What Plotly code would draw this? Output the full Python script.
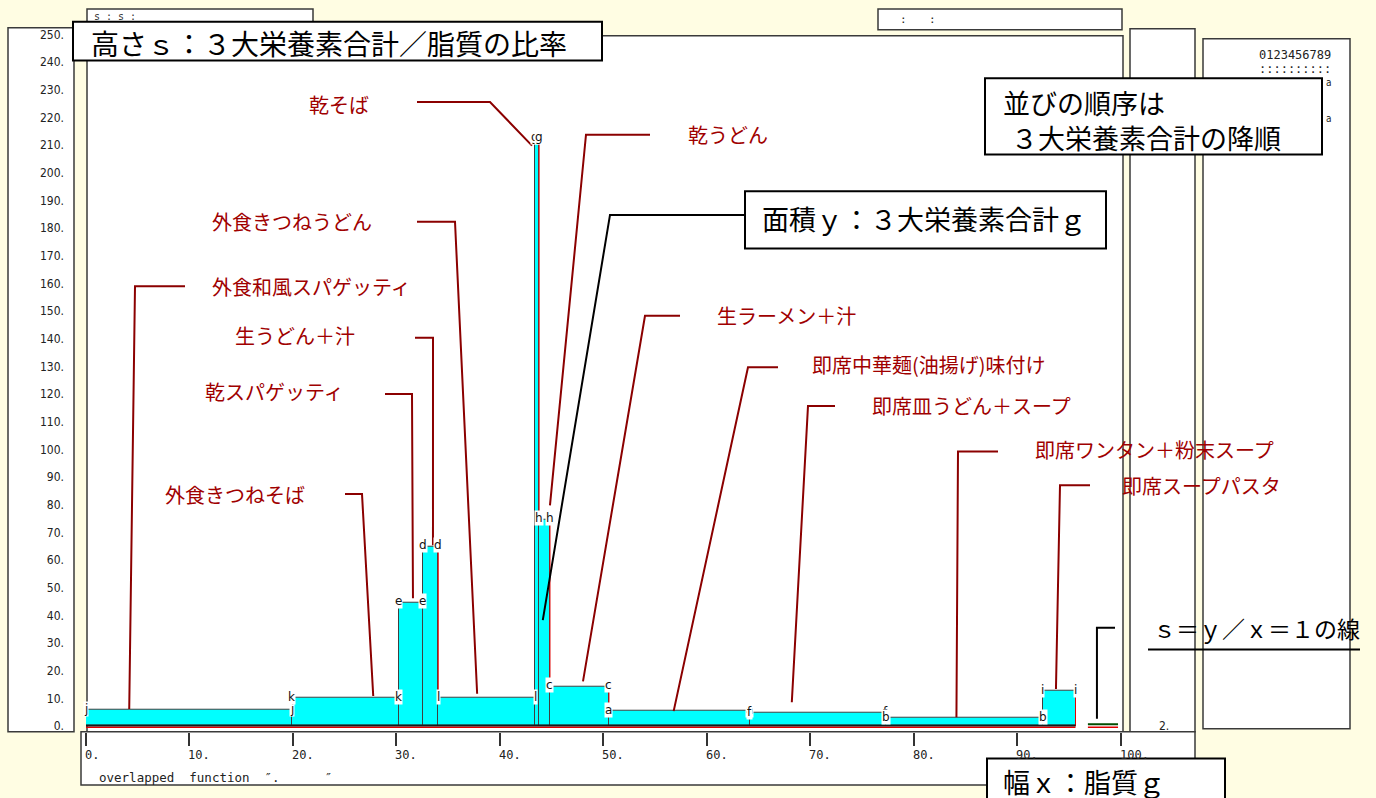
import plotly.graph_objects as go

# ---------------- data ----------------
foods = ["外食和風スパゲッティ", "外食きつねそば", "乾スパゲッティ", "生うどん＋汁",
         "外食きつねうどん", "乾そば", "乾うどん", "生ラーメン＋汁",
         "即席中華麺(油揚げ)味付け", "即席皿うどん＋スープ", "即席ワンタン＋粉末スープ",
         "即席スープパスタ"]
codes = ["j", "k", "e", "d", "l", "g", "h", "c", "a", "f", "b", "i"]
fat_g = [19.9, 10.35, 2.3, 1.5, 9.4, 0.35, 1.05, 5.7, 13.6, 13.15, 15.2, 3.15]      # width x
ratio_s = [5.9, 10.2, 44.8, 65.0, 10.3, 212.7, 74.8, 14.4, 5.45, 4.7, 2.9, 12.7]     # height s
x_ticks = [0, 10, 20, 30, 40, 50, 60, 70, 80, 90, 100]
x_tick_labels = [f"{v}." for v in x_ticks]
y_ticks = list(range(0, 251, 10))
y_tick_labels = [f"{v}." for v in y_ticks]
s_line_value = 1.0

# ---------------- geometry helpers ----------------
W, H = 1376, 798
X0, XS = 86.0, 10.345     # px of x=0, px per unit
Y0, YS = 727.5, 2.795     # px of y=0, px per unit


def dx(px):
    return (px - X0) / XS


def dy(py):
    return (Y0 - py) / YS


def pxp(px):
    return px / W


def pyp(py):
    return 1 - py / H


lefts = []
acc = 0.0
for w in fat_g:
    lefts.append(acc)
    acc += w
rights = [l + w for l, w in zip(lefts, fat_g)]
centers = [l + w / 2 for l, w in zip(lefts, fat_g)]
total_x = acc

BEIGE = "#FFFDE3"
PANEL = "#3a3a3a"
LABEL_RED = "#A00000"
LEAD_RED = "#8B0000"
JP = "Noto Sans CJK JP, Noto Sans CJK SC, sans-serif"
NARROW = "Liberation Sans Narrow, DejaVu Sans Condensed, sans-serif"
MONO = "DejaVu Sans Mono, Liberation Mono, monospace"

fig = go.Figure()

# bars (variable width)
fig.add_trace(go.Bar(
    x=centers, y=ratio_s, width=fat_g,
    marker=dict(color="#00FFFF", line=dict(color="#404040", width=1)),
    hoverinfo="skip", showlegend=False))

# red descending edges (right side of a bar down to the next top)
rx, ry = [], []
for i in range(len(ratio_s)):
    nxt = ratio_s[i + 1] if i + 1 < len(ratio_s) else 0.0
    if nxt < ratio_s[i]:
        rx += [rights[i], rights[i], None]
        ry += [ratio_s[i], nxt, None]
fig.add_trace(go.Scatter(x=rx, y=ry, mode="lines", line=dict(color="#E00000", width=1),
                         hoverinfo="skip", showlegend=False))

# base lines
sample_a, sample_b = total_x + 1.2, 99.76
fig.add_trace(go.Scatter(x=[0, total_x, None, sample_a, sample_b], y=[-0.35, -0.35, None, -0.35, -0.35],
                         mode="lines", line=dict(color="#E00000", width=1.5), hoverinfo="skip", showlegend=False))
fig.add_trace(go.Scatter(x=[0, total_x], y=[0.3, 0.3], mode="lines",
                         line=dict(color="#1a1a1a", width=2), hoverinfo="skip", showlegend=False))
fig.add_trace(go.Scatter(x=[sample_a, sample_b], y=[s_line_value * 0.75, s_line_value * 0.75], mode="lines",
                         line=dict(color="#004d00", width=2), hoverinfo="skip", showlegend=False))

# ---------------- callouts ----------------
# (food index, label left px, label center y px, start px, elbow px, fraction along bar, gap px above top)
callouts = [
    (0, 210, 283, (185, 283), (135, 283), 0.21, 1),
    (1, 163, 493, (345, 493), (362, 493), 0.76, 2),
    (2, 203, 389, (385, 392), (412, 392), 0.59, 4),
    (3, 233, 333, (415, 335), (433, 335), 0.66, 1),
    (4, 210, 218, (417, 218), (455, 218), 0.40, 4),
    (5, 307, 100, (417, 97), (490, 97), -0.97, -8),
    (6, 686, 130, (650, 130), (586, 130), 1.00, 14),
    (7, 715, 313, (680, 313), (645, 313), 0.56, 5),
    (8, 810, 362, (778, 365), (748, 365), 0.46, 0),
    (9, 870, 404, (835, 404), (808, 404), 0.31, 11),
    (10, 1033, 448, (998, 450), (958, 450), 0.45, 1),
    (11, 1120, 484, (1090, 484), (1060, 484), 0.40, 2),
]
annotations = []
for idx, tx, ty, p0, p1, frac, gap in callouts:
    ex = lefts[idx] + frac * fat_g[idx]
    ey = ratio_s[idx] + gap / YS
    fig.add_trace(go.Scatter(x=[dx(p0[0]), dx(p1[0]), ex], y=[dy(p0[1]), dy(p1[1]), ey],
                             mode="lines", line=dict(color=LEAD_RED, width=2),
                             hoverinfo="skip", showlegend=False))
    annotations.append(dict(xref="paper", yref="paper", x=pxp(tx), y=pyp(ty), xanchor="left",
                            yanchor="middle", text=foods[idx], showarrow=False,
                            font=dict(family=JP, size=20, color=LABEL_RED)))

# black callout for area box (points into the h bar)
hi = 6
fig.add_trace(go.Scatter(x=[dx(745), dx(610), lefts[hi] + 0.34 * fat_g[hi]],
                         y=[dy(211), dy(211), ratio_s[hi] - 102 / YS],
                         mode="lines", line=dict(color="black", width=2), hoverinfo="skip", showlegend=False))
# black callout for s = 1 line
sx = sample_a + 0.3 * (sample_b - sample_a)
fig.add_trace(go.Scatter(x=[dx(1115), sx, sx], y=[dy(628), dy(628), s_line_value + 4.7 / YS],
                         mode="lines", line=dict(color="black", width=2), hoverinfo="skip", showlegend=False))

# corner letters
for i, c in enumerate(codes):
    for xv in (lefts[i], rights[i]):
        annotations.append(dict(x=xv, y=ratio_s[i], xref="x", yref="y", text=c, showarrow=False,
                                xanchor="center", yanchor="middle", yshift=1,
                                font=dict(family="DejaVu Sans, sans-serif", size=12, color="#111"),
                                bgcolor="white", borderpad=0))

# x tick labels (left aligned at the tick)
for v, t in zip(x_ticks, x_tick_labels):
    annotations.append(dict(x=v, y=pyp(757), xref="x", yref="paper", text=t, showarrow=False,
                            xanchor="left", yanchor="middle", xshift=-3,
                            font=dict(family=MONO, size=12, color="#222")))


def box(x0, y0, x1, y1, fill="white", lc=PANEL, lw=1.5, layer="below"):
    return dict(type="rect", xref="paper", yref="paper", x0=pxp(x0), x1=pxp(x1), y0=pyp(y1), y1=pyp(y0),
                fillcolor=fill, line=dict(color=lc, width=lw), layer=layer)


shapes = [
    box(8, 22, 74, 733),            # y label panel
    box(87, 3, 313, 24),            # top small box
    box(878, 3, 1122, 24),          # top right small box
    box(87, 30, 1123, 733),         # main frame
    box(1130, 23, 1195, 733),       # narrow right panel
    box(1203, 33, 1350, 730),       # far right panel
    box(81, 733, 1195, 787),        # x axis panel
    # overlay text boxes
    box(73, 16, 602, 55, lc="black", lw=2, layer="above"),
    box(985, 73, 1322, 150, lc="black", lw=2, layer="above"),
    box(745, 187, 1106, 245, lc="black", lw=2, layer="above"),
    box(987, 760, 1225, 802, lc="black", lw=2, layer="above"),
    dict(type="line", xref="paper", yref="paper", x0=pxp(1148), x1=pxp(1360), y0=pyp(650), y1=pyp(650),
         line=dict(color="black", width=2), layer="above"),
]


def txt(x, y, s, size, family=JP, color="black", anchor="left"):
    annotations.append(dict(xref="paper", yref="paper", x=pxp(x), y=pyp(y), text=s, showarrow=False,
                            xanchor=anchor, yanchor="middle", font=dict(family=family, size=size, color=color)))


txt(89, 37, "高さｓ：３大栄養素合計／脂質の比率", 28)
txt(1001, 97, "並びの順序は", 27)
txt(1003, 133, " ３大栄養素合計の降順", 27)
txt(760, 215, "面積ｙ：３大栄養素合計ｇ", 27)
txt(1001, 783, "幅ｘ：脂質ｇ", 27)
txt(1151, 628, "ｓ＝ｙ／ｘ＝１の線", 23)
txt(97, 779, "overlapped  function  ″.      ″", 12.5, family=MONO, color="#222")
txt(92, 11, "s : s :", 10, family=MONO, color="#333")
txt(898, 14, ":", 11, family=MONO, color="#222")
txt(927, 14, ":", 11, family=MONO, color="#222")
txt(1157, 727, "2.", 12, family=NARROW, color="#222")
txt(1257, 50, "0123456789", 12, family=MONO, color="#222")
txt(1257, 64, "::::::::::", 12, family=MONO, color="#222")
txt(1324, 77, "a", 10, family=NARROW, color="#222")
txt(1324, 114, "a", 10, family=NARROW, color="#222")

fig.update_layout(
    width=W, height=H, margin=dict(l=0, r=0, t=0, b=0),
    paper_bgcolor=BEIGE, plot_bgcolor="rgba(0,0,0,0)",
    showlegend=False, bargap=0,
    xaxis=dict(domain=[pxp(86), pxp(1123)], range=[dx(86), dx(1123)], showgrid=False, zeroline=False,
               showline=False, tickvals=x_ticks, ticktext=[""] * len(x_ticks), ticks="outside",
               ticklen=13, tickwidth=1.5, tickcolor="#333"),
    yaxis=dict(domain=[pyp(733), pyp(28)], range=[dy(733), dy(28)], showgrid=False, zeroline=False,
               showline=False, tickvals=y_ticks, ticktext=y_tick_labels, ticks="",
               ticklabelstandoff=21, tickfont=dict(family=NARROW, size=12, color="#222")),
    shapes=shapes, annotations=annotations,
)

fig.write_html("out.html", config={"displayModeBar": False},
               post_script="document.body.style.margin='0px';document.body.style.overflow='hidden';")
